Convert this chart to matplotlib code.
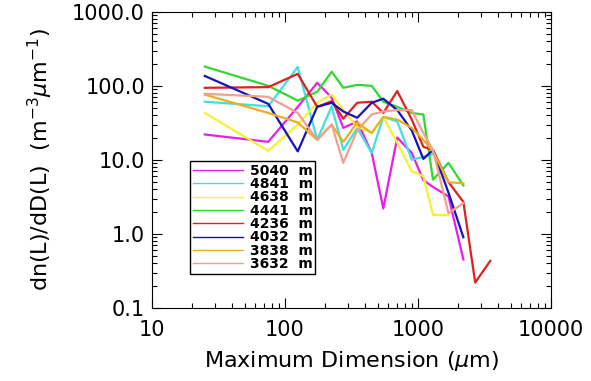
#!/usr/bin/env python3

import numpy as np
import matplotlib
matplotlib.use('Agg')
import matplotlib.pyplot as plt
from matplotlib.ticker import FixedLocator, FixedFormatter, LogLocator, NullFormatter

#------------------------------------------------------------------------
# size bins (maximum dimension, um) and spectra at each altitude

size_bins = [25, 75, 125, 175, 225, 275, 350, 450, 550, 700, 900,
             1100, 1300, 1700, 2200, 2700, 3500]

nan = np.nan
n_5040 = [22, 17.5, 52, 110, 69, 27, 33, 12.4, 2.2, 20, 12.4, 5.3, 4.3, 3.2, 0.45, nan, nan]
n_4841 = [61, 53, 180, 18.6, 53, 13.6, 27, 12.4, 38, 33, 10, 11, 12, nan, nan, nan, nan]
n_4638 = [43, 13.2, 30, 59, 76, 47, 28, 23, 38, 17, 7, 6, 1.8, 1.8, nan, nan, nan]
n_4441 = [182, 100, 63, 83, 155, 94, 103, 100, 61, 52, 43, 41, 5.4, 9.1, 4.5, nan, nan]
n_4236 = [94, 96, 145, 52, 62, 36, 59, 61, 43, 85, 35, 15, 13.6, 5, 2.7, 0.22, 0.43]
n_4032 = [136, 57, 13, 52, 59, 45, 37, 59, 67, 47, 25, 10.3, 13.6, 3.6, 0.9, nan, nan]
n_3838 = [76, 43, 32, 18.6, 30, 17.5, 32, 23, 38, 35, 27, 18.6, 13, 5, 4.8, nan, nan]
n_3632 = [78, 71, 43, 18.6, 30, 9.1, 25, 41, 45, 47, 47, 23, 13.6, 1.9, 2.6, nan, nan]

labels = ['5040  m', '4841  m', '4638  m', '4441  m',
          '4236  m', '4032  m', '3838  m', '3632  m']
colors = ['#e81ee8', '#3ee0e0', '#f8f030', '#30d830',
          '#e02020', '#1414b8', '#eab020', '#f0a08c']

#------------------------------------------------------------------------

def main():
    plt.rcParams['font.family'] = 'DejaVu Sans'
    fig = plt.figure(figsize=(5.91, 3.81), dpi=100)
    ax = fig.add_axes([0.257, 0.192, 0.675, 0.777])

    series = [n_5040, n_4841, n_4638, n_4441, n_4236, n_4032, n_3838, n_3632]
    for vals, lab, col in zip(series, labels, colors):
        ax.plot(size_bins, np.array(vals, dtype=float), color=col, lw=1.6, label=lab)

    ax.set_xscale('log')
    ax.set_yscale('log')
    ax.set_xlim(10, 10000)
    ax.set_ylim(0.1, 1000)

    ax.xaxis.set_major_locator(FixedLocator([10, 100, 1000, 10000]))
    ax.xaxis.set_major_formatter(FixedFormatter(['10', '100', '1000', '10000']))
    ax.yaxis.set_major_locator(FixedLocator([0.1, 1, 10, 100, 1000]))
    ax.yaxis.set_major_formatter(FixedFormatter(['0.1', '1.0', '10.0', '100.0', '1000.0']))
    for a in (ax.xaxis, ax.yaxis):
        a.set_minor_locator(LogLocator(base=10, subs=np.arange(2, 10), numticks=20))
        a.set_minor_formatter(NullFormatter())

    ax.tick_params(which='both', direction='in', top=True, right=True,
                   labelsize=15, width=0.8)
    ax.tick_params(which='major', length=7)
    ax.tick_params(axis='y', which='major', pad=5)
    ax.tick_params(axis='x', which='major', pad=9)
    ax.tick_params(which='minor', length=3.5)

    ax.set_xlabel(r'Maximum Dimension ($\mu$m)', fontsize=16, labelpad=6)
    ax.set_ylabel(r'dn(L)/dD(L)  (m$^{-3}\mu$m$^{-1}$)', fontsize=16, labelpad=12)

    leg = ax.legend(loc='lower left', bbox_to_anchor=(0.095, 0.115),
                    fontsize=10, handlelength=3.6, labelspacing=-0.05,
                    handletextpad=0.5, borderpad=0.2, borderaxespad=0.0,
                    fancybox=False, framealpha=1, edgecolor='black')
    leg.get_frame().set_linewidth(1.0)
    for line in leg.get_lines():
        line.set_linewidth(1.0)
    for txt in leg.get_texts():
        txt.set_fontweight('bold')

    fig.savefig('out.png', dpi=100)

#------------------------------------------------------------------------

if __name__ == "__main__":
    main()
